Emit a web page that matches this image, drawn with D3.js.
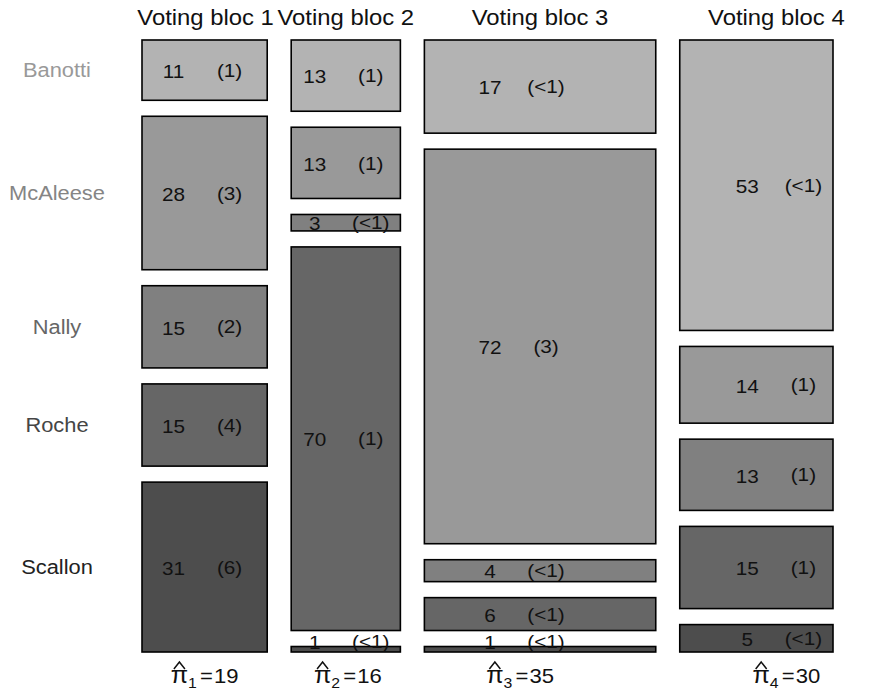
<!DOCTYPE html>
<html>
<head>
<meta charset="utf-8">
<script src="https://cdn.jsdelivr.net/npm/d3@7"></script>
<style>
  body { margin: 0; background: #fff; }
  text { font-family: "Liberation Sans", Arial, sans-serif; }
</style>
</head>
<body>
<div id="chart"></div>
<script>
// candidates (rows) and blocs (columns)
const candidates = ["Banotti", "McAleese", "Nally", "Roche", "Scallon"];
const blocs = ["Voting bloc 1", "Voting bloc 2", "Voting bloc 3", "Voting bloc 4"];
// relative width of each bloc column
const blocWidth = [125, 109, 231, 153];
// estimated bloc share, shown under each column
const piHat = [19, 16, 35, 30];

// percentages of each candidate within each bloc
const bloc1 = [11, 28, 15, 15, 31];
const bloc2 = [13, 13, 3, 70, 1];
const bloc3 = [17, 72, 4, 6, 1];
const bloc4 = [53, 14, 13, 15, 5];
// standard errors printed in brackets
const se1 = ["(1)", "(3)", "(2)", "(4)", "(6)"];
const se2 = ["(1)", "(1)", "(<1)", "(1)", "(<1)"];
const se3 = ["(<1)", "(3)", "(<1)", "(<1)", "(<1)"];
const se4 = ["(<1)", "(1)", "(1)", "(1)", "(<1)"];

const values = [bloc1, bloc2, bloc3, bloc4];
const ses = [se1, se2, se3, se4];

// styling
const fills = ["#b3b3b3", "#999999", "#808080", "#666666", "#4d4d4d"];
const labelColors = ["#999999", "#858585", "#666666", "#454545", "#222222"];

const width = 882, height = 697;
const plotLeft = 142, plotRight = 833, plotTop = 40, plotBottom = 652;
const colGap = 24, rowGap = 16;
const stretchX = 1.12;

// small nudges of text within each column (like the original)
const cellShift = [-3, -3, -22, 19];
const titleShift = [1, 0, 0, 20];
const footShift = [0, 2, -20, 30];

const svg = d3.select("#chart")
  .append("svg")
  .attr("width", width)
  .attr("height", height);

// horizontal scale over cumulative bloc widths
const totalW = d3.sum(blocWidth);
const x = d3.scaleLinear()
  .domain([0, totalW])
  .range([0, plotRight - plotLeft - colGap * (blocs.length - 1)]);
const cumW = [0].concat(Array.from(d3.cumsum(blocWidth)));

// vertical scale over percentages
const y = d3.scaleLinear()
  .domain([0, 100])
  .range([0, plotBottom - plotTop - rowGap * (candidates.length - 1)]);

// stretch text a bit wider, the reference font is wider than Liberation
const stretch = (sel) => {
  sel.each(function () {
    const len = this.getComputedTextLength();
    d3.select(this).attr("textLength", len * stretchX).attr("lengthAdjust", "spacingAndGlyphs");
  });
};

const cols = blocs.map((b, i) => {
  const x0 = plotLeft + x(cumW[i]) + i * colGap;
  const x1 = plotLeft + x(cumW[i + 1]) + i * colGap;
  const cum = [0].concat(Array.from(d3.cumsum(values[i])));
  const cells = values[i].map((v, j) => ({
    bloc: i,
    cand: j,
    value: v,
    se: ses[i][j],
    x0: x0,
    x1: x1,
    y0: plotTop + y(cum[j]) + j * rowGap,
    y1: plotTop + y(cum[j + 1]) + j * rowGap,
  }));
  return { name: b, x0, x1, cx: (x0 + x1) / 2, cells };
});

const allCells = cols.flatMap((c) => c.cells);

// boxes
svg.append("g")
  .selectAll("rect")
  .data(allCells)
  .join("rect")
  .attr("x", (d) => d.x0)
  .attr("y", (d) => d.y0)
  .attr("width", (d) => d.x1 - d.x0)
  .attr("height", (d) => Math.max(1, d.y1 - d.y0))
  .attr("fill", (d) => fills[d.cand])
  .attr("stroke", "#000")
  .attr("stroke-width", 1.6);

// cell numbers
const cellY = (d) => Math.min((d.y0 + d.y1) / 2, plotBottom - 11);
const cellText = svg.append("g")
  .attr("fill", "#111")
  .style("font-size", "18.5px")
  .attr("text-anchor", "middle");

cellText.selectAll("text.num")
  .data(allCells)
  .join("text")
  .attr("class", "num")
  .attr("x", (d) => cols[d.bloc].cx + cellShift[d.bloc] - 28)
  .attr("y", cellY)
  .attr("dy", "0.42em")
  .text((d) => d.value)
  .call(stretch);

cellText.selectAll("text.se")
  .data(allCells)
  .join("text")
  .attr("class", "se")
  .attr("x", (d) => cols[d.bloc].cx + cellShift[d.bloc] + 28)
  .attr("y", cellY)
  .attr("dy", "0.36em")
  .text((d) => d.se)
  .call(stretch);

// column titles
svg.append("g")
  .selectAll("text")
  .data(cols)
  .join("text")
  .attr("x", (d, i) => d.cx + titleShift[i])
  .attr("y", 25)
  .attr("text-anchor", "middle")
  .attr("fill", "#111")
  .style("font-size", "21.3px")
  .text((d) => d.name)
  .call(stretch);

// row labels at the first column's box centres
svg.append("g")
  .selectAll("text")
  .data(cols[0].cells)
  .join("text")
  .attr("x", 57)
  .attr("y", (d) => (d.y0 + d.y1) / 2)
  .attr("dy", "0.36em")
  .attr("text-anchor", "middle")
  .attr("fill", (d) => labelColors[d.cand])
  .style("font-size", "19.5px")
  .text((d) => candidates[d.cand])
  .call(stretch);

// pi-hat labels under the columns
const foot = svg.append("g").attr("fill", "#111");
cols.forEach((c, i) => {
  const t = foot.append("text")
    .attr("x", c.cx + footShift[i])
    .attr("y", 683)
    .attr("text-anchor", "middle")
    .style("font-size", "21px");
  t.append("tspan").style("font-size", "24px").text("π");
  t.append("tspan").attr("dy", 5).style("font-size", "15px").text(i + 1);
  t.append("tspan").attr("dy", -5).attr("dx", 3).text("=");
  t.append("tspan").attr("dx", 1).text(piHat[i]);
  t.call(stretch);
  const ext = t.node().getExtentOfChar(0);
  const hx = ext.x + ext.width / 2;
  const hy = ext.y + 1;
  foot.append("path")
    .attr("d", `M${hx - 5.5},${hy + 7}L${hx},${hy}L${hx + 5.5},${hy + 7}`)
    .attr("fill", "none")
    .attr("stroke", "#111")
    .attr("stroke-width", 1.5);
});
</script>
</body>
</html>
